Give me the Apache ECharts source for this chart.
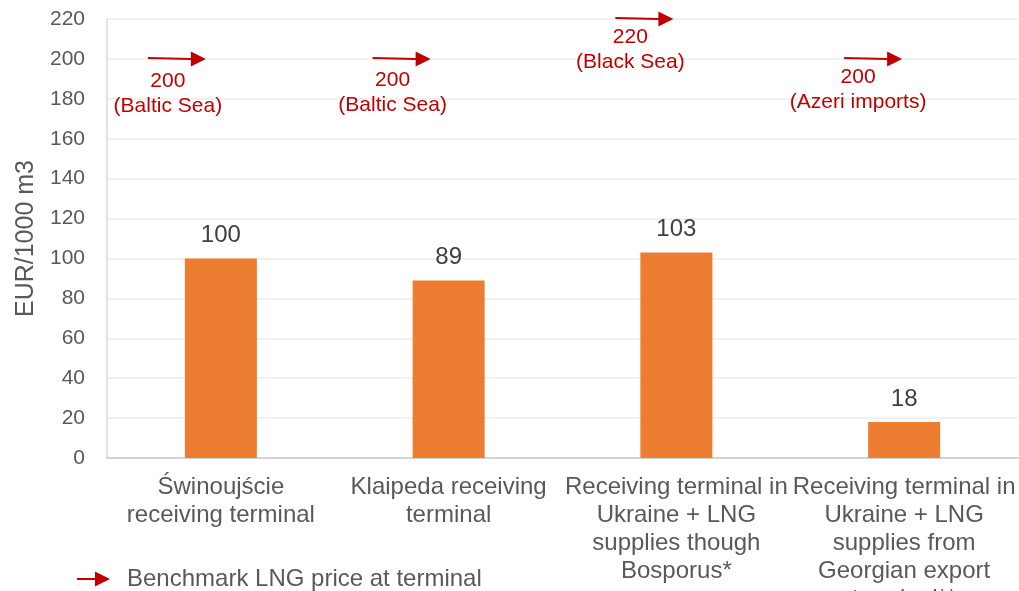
<!DOCTYPE html>
<html>
<head>
<meta charset="utf-8">
<script src="https://cdn.jsdelivr.net/npm/echarts@6/dist/echarts.min.js"></script>
<style>
  html, body { margin: 0; padding: 0; background: #ffffff; }
  #chart { width: 1019px; height: 591px; }
</style>
</head>
<body>
<div id="chart"></div>
<script>
// Terminal categories (line breaks as printed under the axis)
const categories = [
  'Świnoujście\nreceiving terminal',
  'Klaipeda receiving\nterminal',
  'Receiving terminal in\nUkraine + LNG\nsupplies though\nBosporus*',
  'Receiving terminal in\nUkraine + LNG\nsupplies from\nGeorgian export\nterminal**'
];

// Cost at each terminal, EUR per 1000 m3
const terminalCost = [100, 89, 103, 18];

// Benchmark LNG price at each terminal and its source
const benchmarkPrice = [200, 200, 220, 200];
const benchmarkSource = ['Baltic Sea', 'Baltic Sea', 'Black Sea', 'Azeri imports'];

const yMin = 0, yMax = 220, yStep = 20;

const FONT = '"Liberation Sans", Arial, sans-serif';
const ARROW = 'path://M0,5.6 L43,6.6 L43,0 L58,7.5 L43,15 L43,8.6 L0,7.6 Z';
const LEGEND_ARROW = 'path://M0,6.5 L18,6.5 L18,0 L33,7.5 L18,15 L18,8.5 L0,8.5 Z';
const RED = '#C00000';

// Placement of each arrow marker and its caption
const arrowShift = [-44, -47, -32, -31];
const captionShift = [[-9, 4], [-9, 3], [-14, 0], [-15, 0]];

const chart = echarts.init(document.getElementById('chart'));

chart.setOption({
  animation: false,
  backgroundColor: '#ffffff',
  textStyle: { fontFamily: FONT },
  grid: { left: 107, right: 1, top: 19, bottom: 133, containLabel: false, outerBoundsMode: 'none' },
  legend: {
    data: ['Benchmark LNG price at terminal'],
    left: 72,
    top: 562,
    itemWidth: 33,
    itemHeight: 15,
    icon: LEGEND_ARROW,
    itemStyle: { color: RED, opacity: 1 },
    textStyle: { fontFamily: FONT, fontSize: 24, color: '#595959', padding: [0, 0, 0, 12] }
  },
  xAxis: {
    type: 'category',
    data: categories,
    axisLine: { show: true, lineStyle: { color: '#d4d4d4', width: 2 } },
    axisTick: { show: false },
    axisLabel: {
      interval: 0,
      fontFamily: FONT,
      fontSize: 24,
      lineHeight: 28,
      color: '#595959',
      margin: 15
    }
  },
  yAxis: {
    type: 'value',
    min: yMin,
    max: yMax,
    interval: yStep,
    name: 'EUR/1000 m3',
    nameLocation: 'middle',
    nameGap: 67,
    nameRotate: 90,
    nameTextStyle: { fontFamily: FONT, fontSize: 25, color: '#595959' },
    axisLine: { show: true, lineStyle: { color: '#d9d9d9', width: 1.5 } },
    axisTick: { show: false },
    axisLabel: { fontFamily: FONT, fontSize: 21, color: '#595959', margin: 22 },
    splitLine: { show: true, lineStyle: { color: '#ececec', width: 1.5 } }
  },
  series: [
    {
      name: 'Cost',
      type: 'bar',
      data: terminalCost,
      barWidth: 72,
      itemStyle: { color: '#ED7D31' },
      label: {
        show: true,
        position: 'top',
        distance: 11,
        fontFamily: FONT,
        fontSize: 24,
        color: '#404040'
      }
    },
    {
      name: 'Benchmark LNG price at terminal',
      type: 'scatter',
      symbol: ARROW,
      symbolSize: [58, 15],
      itemStyle: { color: RED, opacity: 1 },
      data: benchmarkPrice.map((v, i) => ({
        value: v,
        symbolOffset: [arrowShift[i], 0],
        label: {
          show: true,
          position: 'bottom',
          distance: -2,
          offset: captionShift[i],
          formatter: v + '\n(' + benchmarkSource[i] + ')',
          fontFamily: FONT,
          fontSize: 21,
          lineHeight: 25,
          color: RED,
          align: 'center'
        }
      })),
      z: 5
    }
  ]
});
</script>
</body>
</html>
